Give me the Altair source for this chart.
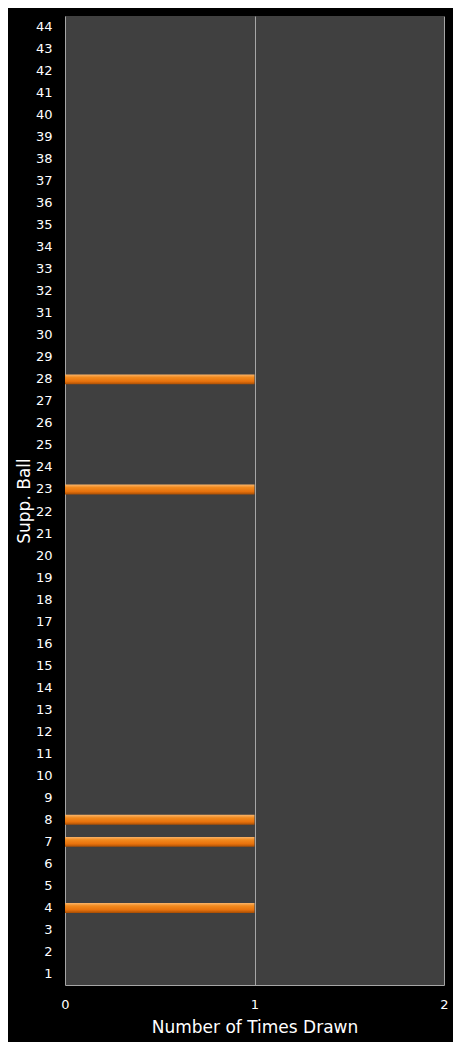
import altair as alt
import pandas as pd

balls = [str(i) for i in range(1, 45)]
drawn_balls = ["4", "7", "8", "23", "28"]
drawn_counts = [1, 1, 1, 1, 1]
x_ticks = [0, 1, 2]

df = pd.DataFrame({"ball": drawn_balls, "count": drawn_counts})

grad = alt.Gradient(
    gradient="linear",
    x1=0, x2=0, y1=0, y2=1,
    stops=[
        alt.GradientStop(color="#fbb56a", offset=0),
        alt.GradientStop(color="#f28a1e", offset=0.3),
        alt.GradientStop(color="#e8720c", offset=0.7),
        alt.GradientStop(color="#a84e05", offset=1),
    ],
)

chart = (
    alt.Chart(df)
    .mark_bar(color=grad)
    .encode(
        x=alt.X(
            "count:Q",
            scale=alt.Scale(domain=[0, 2], nice=False),
            axis=alt.Axis(
                title="Number of Times Drawn",
                values=x_ticks,
                tickCount=3,
                labelExpr="format(datum.value, 'd')",
                labelFlush=False,
                labelOverlap=False,
                grid=True,
                gridColor="#a6a6a6",
                gridWidth=1,
                gridOpacity=1,
                domain=True,
                domainColor="#a6a6a6",
                ticks=False,
                labelPadding=13,
                labelColor="#ffffff",
                labelFontSize=13,
                labelFont="DejaVu Sans",
                titleColor="#ffffff",
                titleFontSize=17,
                titleFontWeight="normal",
                titleFont="DejaVu Sans",
                titlePadding=8,
            ),
        ),
        y=alt.Y(
            "ball:N",
            sort=balls[::-1],
            scale=alt.Scale(domain=balls[::-1], paddingInner=0.55, paddingOuter=0.275),
            axis=alt.Axis(
                title="Supp. Ball",
                domain=False,
                ticks=False,
                grid=False,
                labelPadding=13,
                labelColor="#ffffff",
                labelFontSize=13,
                labelFont="DejaVu Sans",
                titleColor="#ffffff",
                titleFontSize=17,
                titleFontWeight="normal",
                titleFont="DejaVu Sans",
                titlePadding=2,
            ),
        ),
    )
    .properties(
        width=379,
        height=969,
        background="#000000",
        autosize=alt.AutoSizeParams(type="none"),
        padding={"left": 57, "top": 8, "right": 9, "bottom": 57},
    )
    .configure_view(fill="#404040", stroke=None)
)

chart.save("out.html", embed_options={"renderer": "svg", "actions": False})
